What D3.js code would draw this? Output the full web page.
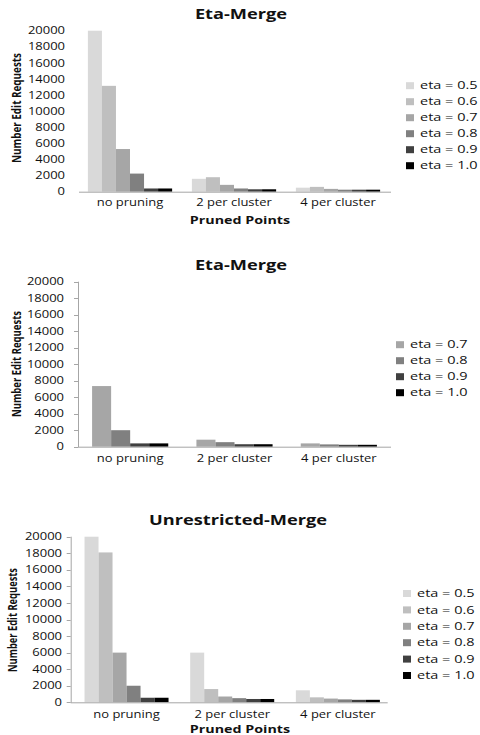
<!DOCTYPE html>
<html><head><meta charset="utf-8">
<script src="https://cdn.jsdelivr.net/npm/d3@7"></script>
<style>body{margin:0;background:#fff} svg{display:block}</style>
</head><body>
<script>
// ---------- DATA ----------
const categories = ["no pruning", "2 per cluster", "4 per cluster"];
const yTickValues = [0, 2000, 4000, 6000, 8000, 10000, 12000, 14000, 16000, 18000, 20000];
const etaLabelsAll = ["eta = 0.5", "eta = 0.6", "eta = 0.7", "eta = 0.8", "eta = 0.9", "eta = 1.0"];
const etaLabelsHigh = ["eta = 0.7", "eta = 0.8", "eta = 0.9", "eta = 1.0"];
const chartTitles = ["Eta-Merge", "Eta-Merge", "Unrestricted-Merge"];
const xAxisTitle = "Pruned Points";
const yAxisTitle = "Number Edit Requests";

// Chart 1: Eta-Merge (eta 0.5 .. 1.0)
const em1_eta05 = [20000, 1600, 500];
const em1_eta06 = [13150, 1800, 600];
const em1_eta07 = [5300, 850, 350];
const em1_eta08 = [2250, 400, 250];
const em1_eta09 = [400, 300, 250];
const em1_eta10 = [400, 300, 250];

// Chart 2: Eta-Merge (eta 0.7 .. 1.0)
const em2_eta07 = [7350, 850, 400];
const em2_eta08 = [2000, 550, 280];
const em2_eta09 = [400, 300, 230];
const em2_eta10 = [400, 300, 230];

// Chart 3: Unrestricted-Merge
const um_eta05 = [20000, 6000, 1450];
const um_eta06 = [18100, 1600, 600];
const um_eta07 = [6000, 700, 450];
const um_eta08 = [2000, 500, 350];
const um_eta09 = [550, 400, 300];
const um_eta10 = [550, 400, 300];

// ---------- STYLE ----------
const grayAll = ["#d9d9d9", "#bfbfbf", "#a6a6a6", "#808080", "#404040", "#000000"];
const grayHigh = grayAll.slice(2);
const SX = 1.3;            // horizontal stretch of the reference
const FONT = "'Open Sans', sans-serif";
const TXT = "#111";

const svg = d3.select("body").append("svg").attr("width", 480).attr("height", 735);

function stext(g, x, y, str, opts) {
  const t = g.append("text")
    .attr("transform", `translate(${x},${y}) scale(${opts.sx || SX},1)`)
    .attr("text-anchor", opts.anchor || "middle")
    .attr("font-family", FONT)
    .attr("font-size", opts.size)
    .attr("font-weight", opts.weight || "normal")
    .attr("fill", TXT)
    .text(str);
  return t;
}

function drawChart(cfg) {
  const g = svg.append("g");
  const x = d3.scaleBand().domain(categories).range([cfg.left, cfg.right])
    .paddingInner(cfg.pad).paddingOuter(cfg.pad / 2);
  const xs = d3.scaleBand().domain(cfg.labels).range([0, x.bandwidth()]);
  const y = d3.scaleLinear().domain([0, 20000]).range([cfg.bottom, cfg.top]);

  // bars
  cfg.series.forEach((vals, si) => {
    g.append("g").selectAll("rect").data(vals).join("rect")
      .attr("x", (d, i) => x(categories[i]) + xs(cfg.labels[si]) + cfg.shift)
      .attr("y", d => y(d))
      .attr("width", xs.bandwidth())
      .attr("height", d => y(0) - y(d))
      .attr("fill", cfg.colors[si]);
  });

  // axes lines
  g.append("line").attr("x1", cfg.left).attr("x2", cfg.right)
    .attr("y1", y(0) + 0.5).attr("y2", y(0) + 0.5)
    .attr("stroke", "#a6a6a6").attr("stroke-width", 1);
  if (cfg.vline) {
    g.append("line").attr("x1", cfg.left + 0.5).attr("x2", cfg.left + 0.5)
      .attr("y1", cfg.top).attr("y2", y(0) + 0.5)
      .attr("stroke", "#a6a6a6").attr("stroke-width", 1);
    g.append("g").selectAll("line").data(yTickValues).join("line")
      .attr("x1", cfg.left - 4).attr("x2", cfg.left)
      .attr("y1", d => Math.round(y(d)) + 0.5).attr("y2", d => Math.round(y(d)) + 0.5)
      .attr("stroke", "#a6a6a6");
  }

  // y tick labels
  yTickValues.forEach(v => {
    stext(g, cfg.tickRight, y(v) + 3.6, String(v), { size: 10, anchor: "end" });
  });

  // x tick labels
  categories.forEach(c => {
    stext(g, x(c) + x.bandwidth() / 2 + cfg.shift, cfg.xLabelY, c, { size: 10 });
  });

  // titles
  stext(g, cfg.titleX, cfg.titleY, cfg.title, { size: 13.5, weight: "bold", sx: 1.35 });
  if (cfg.xTitleY) stext(g, cfg.xTitleX, cfg.xTitleY, xAxisTitle, { size: 11, weight: "bold", sx: 1.3 });
  g.append("text")
    .attr("transform", `translate(${cfg.yTitleX},${cfg.yTitleY}) rotate(-90) scale(1,1.3)`)
    .attr("text-anchor", "middle")
    .attr("font-family", FONT).attr("font-weight", "bold").attr("font-size", 10)
    .attr("textLength", cfg.yTitleLen).attr("lengthAdjust", "spacingAndGlyphs")
    .attr("fill", TXT).text(yAxisTitle);

  // legend
  cfg.labels.forEach((lab, i) => {
    const ly = cfg.legY + i * cfg.legStep;
    g.append("rect").attr("x", cfg.legX).attr("y", ly - 3.5).attr("width", 8).attr("height", 7)
      .attr("fill", cfg.colors[i]);
    stext(g, cfg.legX + 14, ly + 3.6, lab, { size: 10, anchor: "start", sx: 1.45 });
  });
}

drawChart({
  title: chartTitles[0], labels: etaLabelsAll, colors: grayAll,
  series: [em1_eta05, em1_eta06, em1_eta07, em1_eta08, em1_eta09, em1_eta10],
  left: 79, right: 391, top: 30.7, bottom: 191.7, pad: 0.19, shift: -1, vline: false,
  tickRight: 65, xLabelY: 206, titleX: 241, titleY: 18.5,
  xTitleX: 240, xTitleY: 224, yTitleX: 21, yTitleY: 108, yTitleLen: 110,
  legX: 406, legY: 85.7, legStep: 16
});
drawChart({
  title: chartTitles[1], labels: etaLabelsHigh, colors: grayHigh,
  series: [em2_eta07, em2_eta08, em2_eta09, em2_eta10],
  left: 78, right: 391, top: 281.7, bottom: 446.7, pad: 0.27, shift: 0, vline: true,
  tickRight: 64, xLabelY: 462, titleX: 241, titleY: 269.5,
  xTitleX: 240, xTitleY: null, yTitleX: 21, yTitleY: 364, yTitleLen: 106,
  legX: 396, legY: 344.7, legStep: 16
});
drawChart({
  title: chartTitles[2], labels: etaLabelsAll, colors: grayAll,
  series: [um_eta05, um_eta06, um_eta07, um_eta08, um_eta09, um_eta10],
  left: 70.7, right: 387.7, top: 536.7, bottom: 702.3, pad: 0.205, shift: 3, vline: true,
  tickRight: 62, xLabelY: 717.5, titleX: 238, titleY: 524.5,
  xTitleX: 240, xTitleY: 733, yTitleX: 17, yTitleY: 620, yTitleLen: 104,
  legX: 403, legY: 593.5, legStep: 16.4
});
</script>
</body></html>
